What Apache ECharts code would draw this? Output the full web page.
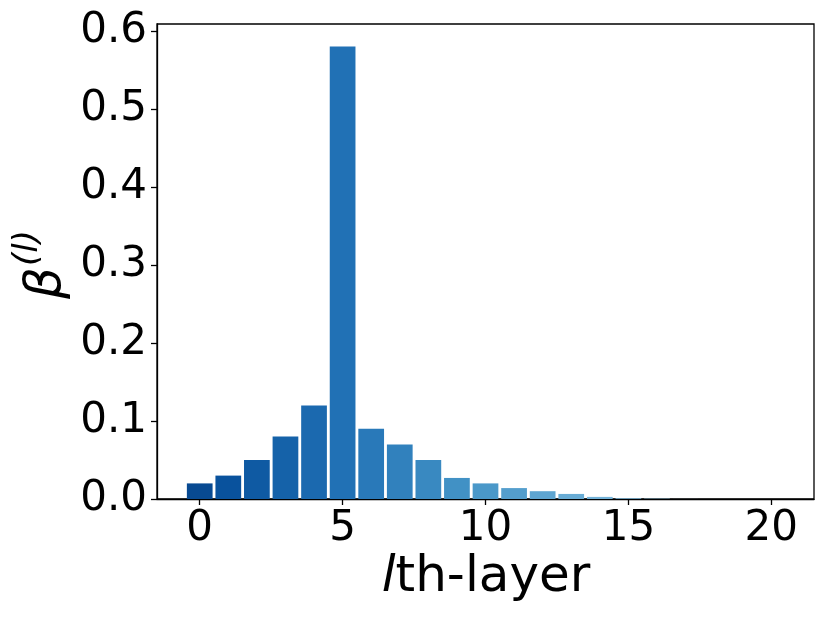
<!DOCTYPE html>
<html>
<head>
<meta charset="utf-8">
<script src="https://cdn.jsdelivr.net/npm/echarts@6/dist/echarts.min.js"></script>
<style>html,body{margin:0;padding:0;background:#fff;}#c{width:830px;height:623px;}</style>
</head>
<body>
<div id="c"></div>
<script>
const layers = [0,1,2,3,4,5,6,7,8,9,10,11,12,13,14,15,16,17,18,19,20];
const beta = [0.02,0.03,0.05,0.08,0.12,0.58,0.09,0.07,0.05,0.027,0.02,0.014,0.01,0.0065,0.0027,0.001,0.0005,0.00005,0.00003,0.00002,0.00001];
const xTicks = [0,5,10,15,20];
const yTicks = [0,0.1,0.2,0.3,0.4,0.5,0.6];

// Blues colormap anchors
const bluesAnchors = ['#f7fbff','#deebf7','#c6dbef','#9ecae1','#6baed6','#4292c6','#2171b5','#08519c','#08306b'];
function hex2rgb(h){return [1,3,5].map(i=>parseInt(h.substr(i,2),16));}
function blues(t){
  const p = t*(bluesAnchors.length-1);
  const i = Math.min(Math.floor(p), bluesAnchors.length-2);
  const f = p-i;
  const a = hex2rgb(bluesAnchors[i]), b = hex2rgb(bluesAnchors[i+1]);
  const c = a.map((v,k)=>Math.round(v+(b[k]-v)*f));
  return 'rgb('+c.join(',')+')';
}
const n = layers.length;
const colors = layers.map((_,i)=>blues(0.9 - 0.6*i/(n-1)));

const FONT = 'DejaVu Sans';
const chart = echarts.init(document.getElementById('c'));
chart.setOption({
  animation:false,
  backgroundColor:'#fff',
  grid:{left:157,right:16,top:24,bottom:124,show:true,borderColor:'#000',borderWidth:1.3,backgroundColor:'transparent'},
  xAxis:{
    type:'value', min:-1.495, max:21.495,
    axisLine:{show:true,onZero:false,lineStyle:{color:'#000',width:1.3}},
    axisTick:{show:true,length:6,lineStyle:{color:'#000',width:1.3},customValues:xTicks},
    axisLabel:{show:true,margin:9,fontFamily:FONT,fontSize:42,color:'#000',customValues:xTicks,formatter:v=>String(Math.round(v))},
    splitLine:{show:false}
  },
  yAxis:{
    type:'value', min:0, max:0.609,
    axisLine:{show:true,onZero:false,lineStyle:{color:'#000',width:1.3}},
    axisTick:{show:true,length:6,lineStyle:{color:'#000',width:1.3},customValues:yTicks},
    axisLabel:{show:true,margin:10,fontFamily:FONT,fontSize:42,color:'#000',customValues:yTicks,formatter:v=>v.toFixed(1)},
    splitLine:{show:false}
  },
  series:[{
    type:'bar',
    barWidth:'90%',
    data:layers.map((x,i)=>({value:[x,beta[i]],itemStyle:{color:colors[i]}})),
    itemStyle:{borderWidth:0}
  }],
  graphic:[
    {type:'text',x:486,y:578,style:{text:'{i|l}th-layer',align:'center',verticalAlign:'middle',fill:'#000',font:'50px "DejaVu Sans"',rich:{i:{fontStyle:'italic',fontFamily:FONT,fontSize:50,fill:'#000'}}}},
    {type:'text',x:47,y:283,rotation:Math.PI/2,style:{text:'β',align:'center',verticalAlign:'middle',fill:'#000',font:'italic 50px "DejaVu Sans"'}},
    {type:'text',x:28,y:248,rotation:Math.PI/2,style:{text:'(l)',align:'center',verticalAlign:'middle',fill:'#000',font:'italic 34px "DejaVu Sans"'}}
  ]
});
</script>
</body>
</html>
